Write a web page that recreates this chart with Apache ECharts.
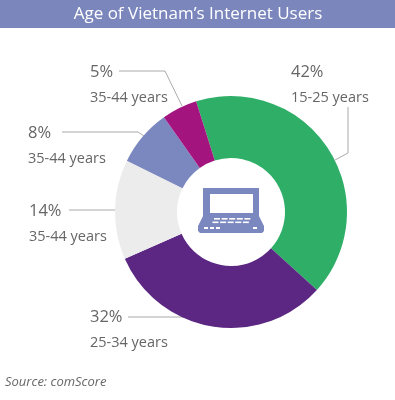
<!DOCTYPE html>
<html><head><meta charset="utf-8">
<style>html,body{margin:0;padding:0;background:#fff}#c{width:395px;height:400px}</style>
<script src="https://cdn.jsdelivr.net/npm/echarts@6/dist/echarts.min.js"></script></head>
<body><div id="c"></div>
<script>
const titleText = "Age of Vietnam\u2019s Internet Users";
const sourceText = "Source: comScore";
const ageGroups = ["15-25 years","25-34 years","35-44 years","35-44 years","35-44 years"];
const shares = [42,32,14,8,5];
const sliceColors = ["#2fae68","#5b2782","#ececec","#7b88bf","#a4147f"];
const labelPos = [[291,73],[90,318],[29,212],[28,134],[90,73]];
const linePts = [
  [[348,107],[348,153],[335,160]],
  [[128,317],[186,317]],
  [[69,210],[116,210]],
  [[62,132],[138,132],[144,136]],
  [[119,71],[165,71],[182,106]]
];
const font = '"Open Sans","Noto Sans",sans-serif';
const chart = echarts.init(document.getElementById('c'),null,{renderer:'canvas'});
const ic = '#7b88bf';
const R = (x,y,w,h,fill)=>({type:'rect',shape:{x,y,width:w,height:h},style:{fill}});
const keys = [];
for(let i=0;i<5;i++){keys.push(R(214+i*7.6,218,6,1.6,'#fff'));keys.push(R(212.5+i*7.6,221.5,6,1.6,'#fff'));}
chart.setOption({
  animation:false,
  graphic:[
    R(0,0,395,28,'#7b86bd'),
    {type:'text',x:198,y:14.5,style:{text:titleText,fill:'#fff',font:'17px '+font,textAlign:'center',textVerticalAlign:'middle'}},
    {type:'text',x:5,y:382,style:{text:sourceText,fill:'#666',font:'italic 13px '+font,textAlign:'left',textVerticalAlign:'middle'}},
    {type:'group',z:10,children:[
      {type:'polygon',shape:{points:[[203,188],[259,188],[259,216],[264,226],[264,231],[262,233],[200,233],[198,231],[198,226],[203,216]]},style:{fill:ic}},
      R(210,194,43,19,'#fff'),
      ...keys,
      R(204,227,4,2,'#fff'),R(210,227,4,2,'#fff'),R(216,227,4,2,'#fff'),R(253,227,4,2,'#fff')
    ]}
  ],
  series:[{
    type:'pie',
    center:[231,212],
    radius:[54,116],
    startAngle:107.5,
    clockwise:true,
    silent:true,
    itemStyle:{borderWidth:0},
    data:shares.map((v,i)=>({value:v,name:ageGroups[i],itemStyle:{color:sliceColors[i]}})),
    label:{
      show:true,position:'outside',overflow:'none',
      formatter:p=>`{a|${p.value}%}\n{b|${p.name}}`,
      align:'left',
      rich:{
        a:{fontSize:16.5,fontFamily:font,color:'#666',lineHeight:25,align:'left'},
        b:{fontSize:14.5,fontFamily:font,color:'#666',lineHeight:25,align:'left'}
      }
    },
    labelLine:{show:true,lineStyle:{color:'#aaa',width:1}},
    labelLayout:p=>({x:labelPos[p.dataIndex][0],y:labelPos[p.dataIndex][1]+12,align:'left',verticalAlign:'middle',labelLinePoints:linePts[p.dataIndex]})
  }]
});
</script></body></html>
